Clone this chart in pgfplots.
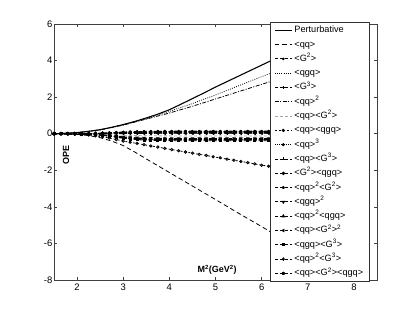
\documentclass[border=0pt]{standalone}
\usepackage{fontspec}
\setmainfont{Liberation Sans}
\usepackage{pgfplots}
\pgfplotsset{compat=1.18}
\usepackage{pgfplotstable}
\usetikzlibrary{plotmarks}
\newcommand{\su}[1]{\textsuperscript{#1}}

% OPE contributions in units of 1e-8
\pgfplotstableread{
x G2 G3 qqG2 qqqgq qq3 qqG3 G2qgq qq2G2 qgq2 qq2qgq qqG22 qgqG3 qq2G3 qqG2qgq
1.50 0 0 0 0 0 0 0 0 0 0 0 0 0 0
1.65 0 0 0 0 0 0 0 0 0 0 0 0 0 0
1.80 0 0 0 -0.01 0 0 0 0 0 0 0 0 0 0
1.95 0.001 -0.003 -0.001 -0.02 0.001 0 -0.003 0.001 -0.003 0.001 0 -0.004 0.001 -0.003
2.10 0.004 -0.009 -0.004 -0.04 0.003 0.001 -0.010 0.004 -0.008 0.002 0.001 -0.011 0.003 -0.010
2.25 0.010 -0.021 -0.008 -0.07 0.007 0.003 -0.024 0.008 -0.018 0.005 0.001 -0.027 0.006 -0.022
2.40 0.020 -0.042 -0.017 -0.11 0.014 0.006 -0.048 0.017 -0.036 0.010 0.003 -0.053 0.013 -0.045
2.55 0.034 -0.072 -0.029 -0.17 0.024 0.010 -0.082 0.029 -0.062 0.017 0.005 -0.091 0.022 -0.077
2.70 0.052 -0.111 -0.044 -0.24 0.037 0.015 -0.126 0.044 -0.096 0.026 0.007 -0.141 0.033 -0.118
2.85 0.073 -0.156 -0.062 -0.32 0.052 0.021 -0.177 0.062 -0.135 0.036 0.010 -0.198 0.047 -0.166
3.00 0.092 -0.198 -0.079 -0.40 0.066 0.026 -0.224 0.079 -0.172 0.046 0.013 -0.251 0.059 -0.211
3.15 0.108 -0.231 -0.092 -0.47 0.077 0.031 -0.262 0.092 -0.200 0.054 0.015 -0.293 0.069 -0.246
3.30 0.120 -0.258 -0.103 -0.53 0.086 0.034 -0.292 0.103 -0.224 0.060 0.017 -0.327 0.077 -0.275
3.45 0.129 -0.276 -0.110 -0.60 0.092 0.037 -0.313 0.110 -0.239 0.064 0.018 -0.350 0.083 -0.294
3.60 0.134 -0.288 -0.115 -0.67 0.096 0.038 -0.326 0.115 -0.250 0.067 0.019 -0.365 0.086 -0.307
3.75 0.137 -0.294 -0.118 -0.73 0.098 0.039 -0.333 0.118 -0.255 0.069 0.020 -0.372 0.088 -0.314
3.90 0.139 -0.297 -0.119 -0.80 0.099 0.040 -0.337 0.119 -0.257 0.069 0.020 -0.376 0.089 -0.317
4.05 0.140 -0.300 -0.120 -0.87 0.100 0.040 -0.340 0.120 -0.260 0.070 0.020 -0.380 0.090 -0.320
4.20 0.140 -0.300 -0.120 -0.93 0.100 0.040 -0.340 0.120 -0.260 0.070 0.020 -0.380 0.090 -0.320
4.35 0.140 -0.300 -0.120 -1.00 0.100 0.040 -0.340 0.120 -0.260 0.070 0.020 -0.380 0.090 -0.320
4.50 0.140 -0.300 -0.120 -1.06 0.100 0.040 -0.340 0.120 -0.260 0.070 0.020 -0.380 0.090 -0.320
4.65 0.140 -0.300 -0.120 -1.13 0.100 0.040 -0.340 0.120 -0.260 0.070 0.020 -0.380 0.090 -0.320
4.80 0.140 -0.300 -0.120 -1.19 0.100 0.040 -0.340 0.120 -0.260 0.070 0.020 -0.380 0.090 -0.320
4.95 0.140 -0.300 -0.120 -1.26 0.100 0.040 -0.340 0.120 -0.260 0.070 0.020 -0.380 0.090 -0.320
5.10 0.140 -0.300 -0.120 -1.32 0.100 0.040 -0.340 0.120 -0.260 0.070 0.020 -0.380 0.090 -0.320
5.25 0.140 -0.300 -0.120 -1.39 0.100 0.040 -0.340 0.120 -0.260 0.070 0.020 -0.380 0.090 -0.320
5.40 0.140 -0.300 -0.120 -1.45 0.100 0.040 -0.340 0.120 -0.260 0.070 0.020 -0.380 0.090 -0.320
5.55 0.140 -0.300 -0.120 -1.52 0.100 0.040 -0.340 0.120 -0.260 0.070 0.020 -0.380 0.090 -0.320
5.70 0.140 -0.300 -0.120 -1.58 0.100 0.040 -0.340 0.120 -0.260 0.070 0.020 -0.380 0.090 -0.320
5.85 0.140 -0.300 -0.120 -1.65 0.100 0.040 -0.340 0.120 -0.260 0.070 0.020 -0.380 0.090 -0.320
6.00 0.140 -0.300 -0.120 -1.72 0.100 0.040 -0.340 0.120 -0.260 0.070 0.020 -0.380 0.090 -0.320
6.15 0.140 -0.300 -0.120 -1.78 0.100 0.040 -0.340 0.120 -0.260 0.070 0.020 -0.380 0.090 -0.320
6.30 0.140 -0.300 -0.120 -1.85 0.100 0.040 -0.340 0.120 -0.260 0.070 0.020 -0.380 0.090 -0.320
}\cluster

\begin{document}
\begin{tikzpicture}
\begin{axis}[
  scale only axis, width=323bp, height=256bp,
  at={(0,0)}, anchor=south west,
  xmin=1.5, xmax=8.5, ymin=-8, ymax=6,
  xtick={2,3,4,5,6,7,8}, ytick={-8,-6,-4,-2,0,2,4,6},
  tick align=inside, major tick length=3bp,
  axis line style={black!75, line width=0.6bp},
  every tick/.style={black!75, line width=0.6bp},
  tick label style={font=\fontsize{9.5}{10}\selectfont},
  yticklabel style={inner xsep=1.5bp},
  /pgf/number format/assume math mode=true,
  every axis plot/.append style={line width=0.8bp, black},
  legend style={at={(rel axis cs:0.978,1.008)}, anchor=north east,
    font=\fontsize{9.2}{10}\selectfont, draw=black!80, fill=white,
    cells={anchor=west}, inner xsep=4.5bp, inner ysep=1bp, row sep=0pt,
    nodes={text height=7bp, text depth=2bp, inner ysep=2.65bp}},
  legend image code/.code={\draw[mark repeat=2,mark phase=2,#1] plot coordinates {(0bp,0bp) (8.5bp,0bp) (17bp,0bp)};},
  clip=true,
]
% Perturbative
\addplot[line width=1.1bp] coordinates {(1.5,0.0) (1.75,0.02) (2.0,0.06) (2.25,0.13) (2.5,0.22) (2.75,0.35) (3.0,0.50) (3.25,0.67) (3.5,0.86) (3.75,1.07) (4.0,1.31) (4.25,1.61) (4.5,1.92) (4.75,2.23) (5.0,2.55) (5.25,2.85) (5.5,3.15) (5.75,3.45) (6.0,3.75) (6.25,4.05) (6.5,4.35)};
\addlegendentry{Perturbative}
% <qq>
\addplot[dash pattern=on 4.5bp off 3bp] coordinates {(1.5,0) (1.75,-0.01) (2.0,-0.04) (2.25,-0.10) (2.5,-0.22) (2.75,-0.40) (3.0,-0.65) (3.25,-1.0) (3.5,-1.38) (3.75,-1.75) (4.0,-2.12) (4.5,-2.86) (5.0,-3.6) (5.5,-4.35) (6.0,-5.08) (6.5,-5.82)};
\addlegendentry{<qq>}
% <G2>
\addplot[dash pattern=on 3bp off 2bp, mark=*, mark size=0.9bp, mark options={solid}] table[x=x,y=G2] {\cluster};
\addlegendentry{<G\su{2}>}
% <qgq>
\addplot[dash pattern=on 0.8bp off 1.4bp] coordinates {(1.5,0) (2.0,0.05) (2.5,0.21) (3.0,0.48) (3.5,0.82) (4.0,1.22) (4.5,1.65) (5.0,2.12) (5.5,2.62) (6.0,3.12) (6.5,3.6)};
\addlegendentry{<qgq>}
% <G3>
\addplot[dash pattern=on 3bp off 2bp, mark=+, mark size=1.4bp, mark options={solid}] table[x=x,y=G3] {\cluster};
\addlegendentry{<G\su{3}>}
% <qq>^2
\addplot[dash pattern=on 4bp off 1.5bp on 1bp off 1.5bp] coordinates {(1.5,0) (2.0,0.05) (2.5,0.21) (3.0,0.47) (3.5,0.80) (4.0,1.13) (4.5,1.50) (5.0,1.90) (5.5,2.30) (6.0,2.70) (6.5,3.10)};
\addlegendentry{<qq>\su{2}}
% <qq><G2>
\addplot[gray!70, dash pattern=on 3bp off 2bp] table[x=x,y=qqG2] {\cluster};
\addlegendentry{<qq><G\su{2}>}
% <qq><qgq>
\addplot[dash pattern=on 2bp off 2bp, mark=o, mark size=1.2bp, mark options={solid}] table[x=x,y=qqqgq] {\cluster};
\addlegendentry{<qq><qgq>}
% <qq>^3
\addplot[dash pattern=on 0.8bp off 1.4bp, mark=*, mark size=1.1bp, mark options={solid}] table[x=x,y=qq3] {\cluster};
\addlegendentry{<qq>\su{3}}
% <qq><G3>
\addplot[dash pattern=on 3bp off 2bp, mark=+, mark size=1.5bp, mark options={solid}] table[x=x,y=qqG3] {\cluster};
\addlegendentry{<qq><G\su{3}>}
% <G2><qgq>
\addplot[dash pattern=on 3bp off 2bp, mark=*, mark size=1.3bp, mark options={solid}] table[x=x,y=G2qgq] {\cluster};
\addlegendentry{<G\su{2}><qgq>}
% <qq>^2<G2>
\addplot[dash pattern=on 3bp off 2bp, mark=asterisk, mark size=1.4bp, mark options={solid}] table[x=x,y=qq2G2] {\cluster};
\addlegendentry{<qq>\su{2}<G\su{2}>}
% <qgq>^2
\addplot[dash pattern=on 3bp off 2bp, mark=triangle*, mark size=1.4bp, mark options={solid, rotate=180}] table[x=x,y=qgq2] {\cluster};
\addlegendentry{<qgq>\su{2}}
% <qq>^2<qgq>
\addplot[dash pattern=on 3bp off 2bp, mark=triangle*, mark size=1.4bp, mark options={solid}] table[x=x,y=qq2qgq] {\cluster};
\addlegendentry{<qq>\su{2}<qgq>}
% <qq><G2>^2
\addplot[dash pattern=on 3bp off 2bp, mark=triangle*, mark size=1.4bp, mark options={solid, rotate=90}] table[x=x,y=qqG22] {\cluster};
\addlegendentry{<qq><G\su{2}>\su{2}}
% <qgq><G3>
\addplot[dash pattern=on 3bp off 2bp, mark=square*, mark size=1bp, mark options={solid}] table[x=x,y=qgqG3] {\cluster};
\addlegendentry{<qgq><G\su{3}>}
% <qq>^2<G3>
\addplot[dash pattern=on 3bp off 2bp, mark=diamond*, mark size=1.3bp, mark options={solid}] table[x=x,y=qq2G3] {\cluster};
\addlegendentry{<qq>\su{2}<G\su{3}>}
% <qq><G2><qgq>
\addplot[dash pattern=on 3bp off 2bp, mark=pentagon*, mark size=1.3bp, mark options={solid}] table[x=x,y=qqG2qgq] {\cluster};
\addlegendentry{<qq><G\su{2}><qgq>}

\node[anchor=base west, inner sep=0pt, font=\fontsize{9.5}{10}\selectfont] at ([yshift=3.3bp]rel axis cs:0,1) {x 10\textsuperscript{$-$8}};
\node[font=\bfseries\fontsize{9}{10}\selectfont, inner sep=0pt] at (rel axis cs:0.505,0.04) {M\su{2}(GeV\su{2})};
\node[font=\bfseries\fontsize{9}{10}\selectfont, rotate=90, inner sep=0pt] at (rel axis cs:0.037,0.49) {OPE};
\end{axis}
\pgfresetboundingbox
\path[use as bounding box] (-54bp,-36bp) rectangle (363bp,280bp);
\end{tikzpicture}
\end{document}
